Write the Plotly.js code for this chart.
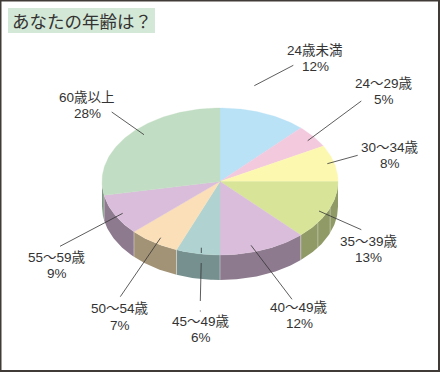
<!DOCTYPE html>
<html><head><meta charset="utf-8">
<script src="https://cdn.plot.ly/plotly-3.0.1.min.js"></script>
<style>html,body{margin:0;padding:0;background:#fff}#c{width:440px;height:372px}</style></head>
<body><div id="c"></div>
<script>
const categories = ['24歳未満','24～29歳','30～34歳','35～39歳','40～49歳','45～49歳','50～54歳','55～59歳','60歳以上'];
const values = [12,5,8,13,12,6,7,9,28];
const topColors = ['#B9E2F6','#F3C9DE','#FDF8B0','#D8E598','#D9BDDB','#B0D3D1','#FADFB8','#D9BDDB','#C1DDC3'];
const sideColors = ['#7E97A4','#A08794','#A9A678','#8F9A66','#8D7A8E','#76908F','#A29276','#8D7A8E','#7F9A84'];
const labelX = [315,384,390,368.7,299,201,120,57,87];
const labelY = [50,83,147,241,307,321,308.7,257,97];
const sideSeams = [111,124];
const leaders = [
 [[254.3,85.7],[293.3,65.3]],
 [[307.7,140.7],[361.3,101]],
 [[327.3,163.7],[357.7,155.3]],
 [[319,211],[361.3,229.7]],
 [[251,245.3],[292,299.3]],
 [[201.3,247.7],[201.3,253]],
 [[201.2,263],[200.3,301]],
 [[200.3,310.5],[200.3,311.5]],
 [[160.7,237.7],[120.3,296.7]],
 [[122.7,213.3],[60,246.3]],
 [[111.7,112],[144,134.7]]
];
const cx=220, cy=181.5, rx=118, ry=73.5, depth=25;
const total = values.reduce((a,b)=>a+b,0);
const font = 'Liberation Sans, "Noto Sans CJK JP", sans-serif';
const txt = '#333';
const pt = (deg,dy=0)=>{const r=deg*Math.PI/180;return [cx+rx*Math.sin(r),cy-ry*Math.cos(r)+dy];};
const traces=[];
let acc=0;
const arcs=values.map(v=>{const a=acc/total*360;acc+=v;return [a,acc/total*360];});
const seam=(d)=>{const q=pt(d),r=pt(d,depth);
  traces.push({type:'scatter',mode:'lines',x:[q[0],r[0]],y:[q[1],r[1]],line:{width:0.7,color:'rgba(255,255,255,0.55)'},hoverinfo:'skip'});};
arcs.forEach(([a,b],i)=>{
  const s=Math.max(a,90), e=Math.min(b,270);
  if(e<=s) return;
  const xs=[],ys=[];
  for(let d=s;d<=e+1e-6;d+=1){const p=pt(d);xs.push(p[0]);ys.push(p[1]);}
  {const p=pt(e);xs.push(p[0]);ys.push(p[1]);}
  for(let d=e;d>=s-1e-6;d-=1){const p=pt(d,depth);xs.push(p[0]);ys.push(p[1]);}
  {const p=pt(s,depth);xs.push(p[0]);ys.push(p[1]);const q=pt(s);xs.push(q[0]);ys.push(q[1]);}
  traces.push({type:'scatter',mode:'lines',x:xs,y:ys,fill:'toself',fillcolor:sideColors[i],line:{width:0},hoverinfo:'skip'});
  if(s>90) seam(s);
});
sideSeams.forEach(seam);
arcs.forEach(([a,b],i)=>{
  const xs=[cx],ys=[cy];
  for(let d=a;d<b;d+=1){const p=pt(d);xs.push(p[0]);ys.push(p[1]);}
  const p=pt(b);xs.push(p[0],cx);ys.push(p[1],cy);
  traces.push({type:'scatter',mode:'lines',x:xs,y:ys,fill:'toself',fillcolor:topColors[i],line:{width:0.3,color:topColors[i]},hoverinfo:'skip'});
});
const annotations=[];
categories.forEach((c,i)=>{
  annotations.push({x:labelX[i],y:labelY[i],xref:'x',yref:'y',text:c,showarrow:false,xanchor:'center',yanchor:'middle',font:{family:font,size:13.5,color:txt}});
  annotations.push({x:labelX[i],y:labelY[i]+16.5,xref:'x',yref:'y',text:values[i]+'%',showarrow:false,xanchor:'center',yanchor:'middle',font:{family:font,size:13.5,color:txt}});
});
annotations.push({x:81.5,y:20.5,xref:'x',yref:'y',text:'あなたの年齢は？',showarrow:false,xanchor:'center',yanchor:'middle',font:{family:'"Noto Sans CJK JP", sans-serif',size:17.5,color:'#333'}});
const shapes=[
 {type:'rect',xref:'x',yref:'y',x0:8,x1:155,y0:8,y1:33,fillcolor:'#D3E8D6',line:{width:0},layer:'below'},
 {type:'rect',xref:'x',yref:'y',x0:0.5,x1:439,y0:0.5,y1:371,fillcolor:'rgba(0,0,0,0)',line:{width:2,color:'#403b37'}}
];
leaders.forEach(l=>shapes.push({type:'line',xref:'x',yref:'y',x0:l[0][0],y0:l[0][1],x1:l[1][0],y1:l[1][1],line:{width:0.8,color:'#333'},layer:'above'}));
Plotly.newPlot('c',traces,{
 width:440,height:372,margin:{l:0,r:0,t:0,b:0},showlegend:false,
 paper_bgcolor:'#fff',plot_bgcolor:'#fff',
 xaxis:{range:[0,440],visible:false,fixedrange:true},
 yaxis:{range:[372,0],visible:false,fixedrange:true},
 shapes,annotations
},{displayModeBar:false,staticPlot:true});
</script></body></html>
